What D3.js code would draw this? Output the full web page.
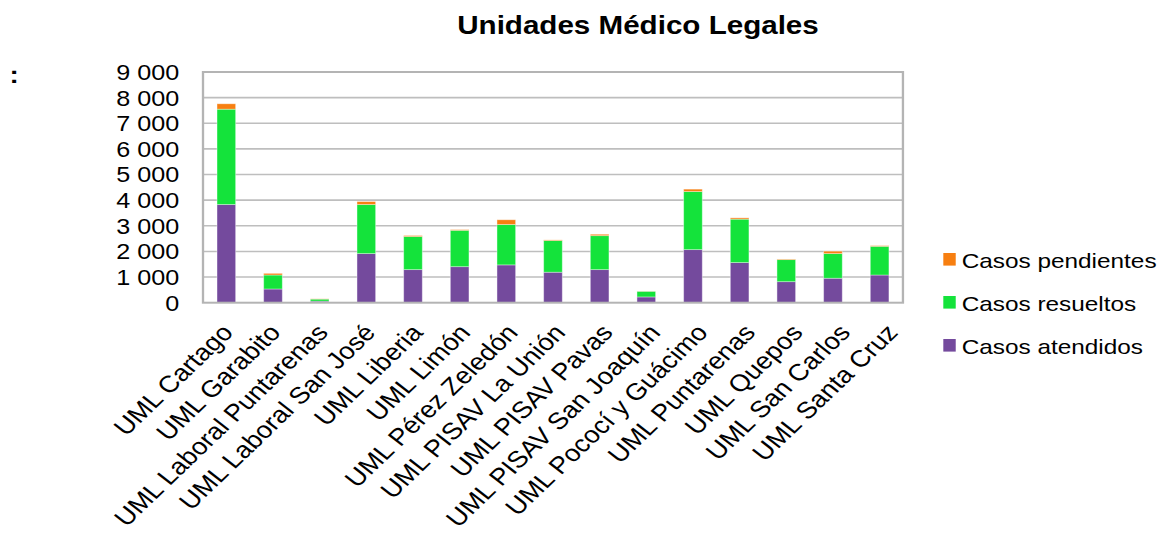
<!DOCTYPE html>
<html><head><meta charset="utf-8">
<script src="https://cdn.jsdelivr.net/npm/d3@7"></script>
<style>
html,body{margin:0;padding:0;background:#fff;}
svg{display:block;font-family:"Liberation Sans",Arial,Helvetica,sans-serif;}
</style></head>
<body>
<svg id="chart" width="1162" height="535"></svg>
<script>
const categories = ["UML Cartago","UML Garabito","UML Laboral Puntarenas","UML Laboral San José","UML Liberia","UML Limón","UML Pérez Zeledón","UML PISAV La Unión","UML PISAV Pavas","UML PISAV San Joaquín","UML Pococí y Guácimo","UML Puntarenas","UML Quepos","UML San Carlos","UML Santa Cruz"];
const casosAtendidos  = [3830,535,60,1915,1290,1405,1475,1190,1290,225,2070,1565,820,955,1080];
const casosResueltos  = [3720,545,80,1915,1290,1420,1575,1235,1325,220,2265,1695,860,960,1120];
const casosPendientes = [210,65,10,115,40,25,185,25,55,5,95,50,25,95,25];
const seriesNames = ["Casos atendidos","Casos resueltos","Casos pendientes"];
const seriesColors = ["#744A9D","#14E33B","#F77F11"];
const yTicks = [0,1000,2000,3000,4000,5000,6000,7000,8000,9000];
const chartTitle = "Unidades Médico Legales";

(function(){
const SX = 1.16; // horizontal stretch of the original picture
const svg = d3.select("#chart");
const root = svg.append("g").attr("transform", `scale(${SX},1)`);

const pL = 175, pR = 778.4, pT = 72, pB = 302.7;
const x = d3.scaleBand().domain(categories).range([pL, pR]).paddingInner(0.6).paddingOuter(0.3);
const y = d3.scaleLinear().domain([0, 9000]).range([pB, pT]);
const xLabel = d3.scalePoint().domain(categories).range([201.5, 774.7]);

const table = categories.map((c, i) => ({cat: c, "Casos atendidos": casosAtendidos[i], "Casos resueltos": casosResueltos[i], "Casos pendientes": casosPendientes[i]}));
const stacked = d3.stack().keys(seriesNames)(table);

// title
root.append("text").attr("x", 638/SX).attr("y", 34).attr("text-anchor", "middle")
  .attr("font-size", 25.5).attr("font-weight", "bold").text(chartTitle);
root.append("text").attr("x", 8.2).attr("y", 83).attr("font-size", 24).attr("font-weight", "bold").text(":");

// gridlines
root.append("g").selectAll("line").data(yTicks.filter(d => d > 0)).join("line")
  .attr("x1", pL).attr("x2", pR).attr("y1", d => y(d)).attr("y2", d => y(d))
  .attr("stroke", "#BEBEBE").attr("stroke-width", 1.6);

// y axis labels
const yAxis = d3.axisLeft(y).tickValues(yTicks).tickSize(0).tickPadding(0)
  .tickFormat(d => d3.format(",")(d).replace(/,/g, "\u00a0"));
const ya = root.append("g").attr("transform", `translate(${pL - 20.4},0)`).call(yAxis);
ya.select(".domain").remove();
ya.selectAll("text").attr("font-size", 21.7).attr("fill", "#000")
  .attr("font-family", "Liberation Sans, Arial, sans-serif").attr("dy", "0.34em");

// bars
root.append("g").selectAll("g").data(stacked).join("g")
  .attr("fill", (d, i) => seriesColors[i])
  .selectAll("rect").data(d => d).join("rect")
  .attr("x", d => x(d.data.cat)).attr("width", x.bandwidth())
  .attr("y", d => y(d[1])).attr("height", d => Math.max(0, y(d[0]) - y(d[1])))
  .attr("stroke", "rgba(255,255,255,0.45)").attr("stroke-width", 0.8);

// plot border
root.append("rect").attr("x", pL).attr("y", pT).attr("width", pR - pL).attr("height", pB - pT)
  .attr("fill", "none").attr("stroke", "#B4B4B4").attr("stroke-width", 2);

// x axis labels
const xa = root.append("g").attr("transform", `translate(0,${pB + 30.8})`)
  .call(d3.axisBottom(xLabel).tickSize(0).tickPadding(0));
xa.select(".domain").remove();
xa.selectAll("text").attr("font-size", 23.6).attr("fill", "#000")
  .attr("font-family", "Liberation Sans, Arial, sans-serif")
  .attr("text-anchor", "end").attr("dy", null).attr("y", 0)
  .attr("transform", "rotate(-48)");

// legend
const legendItems = ["Casos pendientes","Casos resueltos","Casos atendidos"];
const lg = root.append("g");
legendItems.forEach((name, i) => {
  const yy = 268 + i * 43;
  lg.append("rect").attr("x", 813.2).attr("y", yy - 15).attr("width", 10.7).attr("height", 12.6)
    .attr("fill", seriesColors[seriesNames.indexOf(name)]);
  lg.append("text").attr("x", 829).attr("y", yy).attr("font-size", 21).text(name);
});
})();
</script>
</body></html>
